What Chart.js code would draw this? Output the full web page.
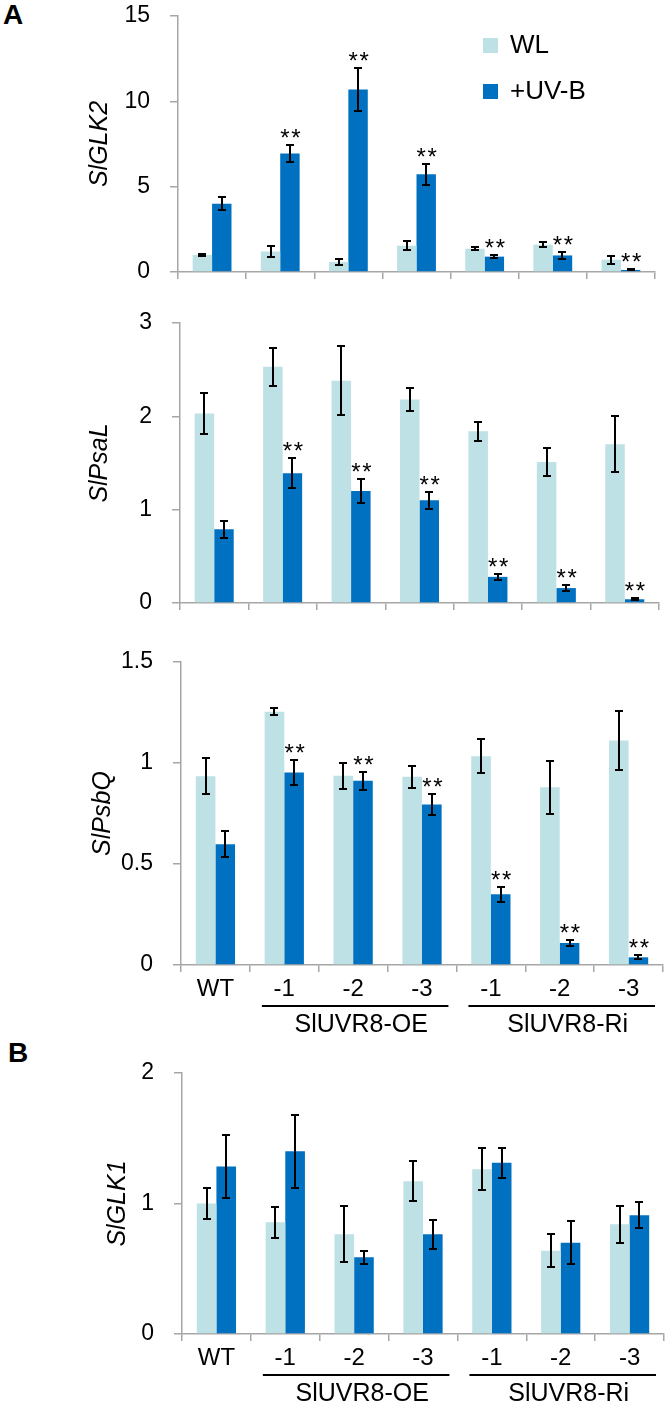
<!DOCTYPE html>
<html><head><meta charset="utf-8">
<script src="https://cdn.jsdelivr.net/npm/chart.js@4.4.1/dist/chart.umd.min.js"></script>
<style>
html,body{margin:0;padding:0;background:#fff;}
body{width:666px;height:1407px;position:relative;overflow:hidden;font-family:'Liberation Sans',Arial,Helvetica,sans-serif;}
canvas{position:absolute;left:0;}
.lbl{position:absolute;font-weight:bold;font-size:28px;line-height:1;color:#000;}
</style></head><body>
<div class="lbl" style="left:3px;top:1px">A</div>
<div class="lbl" style="left:8px;top:1039px">B</div>
<canvas id="c1" width="666" height="300" style="top:0px"></canvas>
<canvas id="c2" width="666" height="320" style="top:300px"></canvas>
<canvas id="c3" width="666" height="420" style="top:620px"></canvas>
<canvas id="c4" width="666" height="367" style="top:1040px"></canvas>
<script>
// ---------- data ----------
const categories = ['WT', '-1', '-2', '-3', '-1', '-2', '-3'];
const seriesNames = ['WL', '+UV-B'];
const groupNames = ['SlUVR8-OE', 'SlUVR8-Ri'];
const groupSpans = [[1, 3], [4, 6]];

// SlGLK2
const glk2WL = [1.0, 1.2, 0.58, 1.54, 1.36, 1.6, 0.72];
const glk2WLerr = [0.06, 0.35, 0.18, 0.27, 0.09, 0.13, 0.23];
const glk2UV = [4.0, 6.94, 10.7, 5.73, 0.9, 0.97, 0.12];
const glk2UVerr = [0.38, 0.49, 1.26, 0.61, 0.1, 0.2, 0.03];
const glk2Sig = [false, true, true, true, true, true, true];
const glk2Ticks = [0, 5, 10, 15];

// SlPsaL
const psalWL = [2.03, 2.53, 2.38, 2.18, 1.84, 1.51, 1.7];
const psalWLerr = [0.22, 0.2, 0.37, 0.12, 0.1, 0.15, 0.3];
const psalUV = [0.79, 1.39, 1.2, 1.1, 0.28, 0.16, 0.04];
const psalUVerr = [0.09, 0.16, 0.13, 0.09, 0.03, 0.035, 0.01];
const psalSig = [false, true, true, true, true, true, true];
const psalTicks = [0, 1, 2, 3];

// SlPsbQ
const psbqWL = [0.935, 1.254, 0.937, 0.932, 1.034, 0.88, 1.112];
const psbqWLerr = [0.09, 0.017, 0.064, 0.055, 0.084, 0.13, 0.145];
const psbqUV = [0.598, 0.953, 0.912, 0.795, 0.35, 0.109, 0.038];
const psbqUVerr = [0.063, 0.06, 0.045, 0.051, 0.036, 0.017, 0.01];
const psbqSig = [false, true, true, true, true, true, true];
const psbqTicks = [0, 0.5, 1, 1.5];

// SlGLK1
const glk1WL = [1.0, 0.857, 0.765, 1.171, 1.263, 0.637, 0.841];
const glk1WLerr = [0.115, 0.12, 0.216, 0.152, 0.163, 0.127, 0.14];
const glk1UV = [1.284, 1.40, 0.588, 0.765, 1.312, 0.70, 0.91];
const glk1UVerr = [0.244, 0.28, 0.05, 0.11, 0.114, 0.166, 0.1];
const glk1Sig = [false, false, false, false, false, false, false];
const glk1Ticks = [0, 1, 2];

// ---------- style ----------
const FONT = "'Liberation Sans', Arial, Helvetica, sans-serif";
const WL_COLOR = '#BDE1E4';
const UV_COLOR = '#0070C0';
const AXIS = '#A6A6A6';

function makePanel(cfg) {
  const cv = document.getElementById(cfg.id);
  const xh = cfg.showLabels ? 70 : 10;
  const deco = {
    id: 'deco_' + cfg.id,
    afterDatasetsDraw(chart) {
      const ctx = chart.ctx, y = chart.scales.y, x = chart.scales.x;
      ctx.save();
      ctx.strokeStyle = '#000';
      ctx.lineWidth = 2;
      const errSets = [cfg.wlErr, cfg.uvErr];
      errSets.forEach((errs, di) => {
        const meta = chart.getDatasetMeta(di);
        meta.data.forEach((bar, j) => {
          const v = chart.data.datasets[di].data[j], e = errs[j];
          const bx = Math.round(bar.x);
          const yt = Math.round(y.getPixelForValue(v + e));
          const yb = Math.round(y.getPixelForValue(Math.max(v - e, 0)));
          ctx.beginPath();
          ctx.moveTo(bx, yt); ctx.lineTo(bx, yb);
          ctx.moveTo(bx - 4, yt); ctx.lineTo(bx + 4, yt);
          ctx.moveTo(bx - 4, yb); ctx.lineTo(bx + 4, yb);
          ctx.stroke();
        });
      });
      // significance stars on +UV-B bars
      const uvMeta = chart.getDatasetMeta(1);
      ctx.fillStyle = '#000';
      ctx.font = '24px ' + FONT;
      ctx.textAlign = 'center';
      ctx.textBaseline = 'alphabetic';
      cfg.sig.forEach((s, j) => {
        if (!s) return;
        const v = cfg.uv[j], e = cfg.uvErr[j];
        const yt = y.getPixelForValue(v + e);
        const bx = uvMeta.data[j].x;
        ctx.fillText('*', bx - 5, yt + 1);
        ctx.fillText('*', bx + 6, yt + 1);
      });
      // legend
      if (cfg.legend) {
        const items = [[seriesNames[0], WL_COLOR, 38], [seriesNames[1], UV_COLOR, 84]];
        ctx.font = '26px ' + FONT;
        ctx.textAlign = 'left';
        ctx.textBaseline = 'middle';
        items.forEach(([t, c, yy]) => {
          ctx.fillStyle = c;
          ctx.fillRect(483, yy, 15, 15);
          ctx.fillStyle = '#000';
          ctx.fillText(t, 510, yy + 8);
        });
      }
      // group underlines and names
      if (cfg.showLabels) {
        const gw = (x.right - x.left) / categories.length;
        const base = chart.chartArea.bottom;
        ctx.strokeStyle = '#000';
        ctx.lineWidth = 2;
        ctx.font = '25px ' + FONT;
        ctx.textAlign = 'center';
        ctx.textBaseline = 'middle';
        ctx.fillStyle = '#000';
        groupSpans.forEach(([a, b], gi) => {
          const x0 = x.left + a * gw + 12, x1 = x.left + (b + 1) * gw - 8;
          ctx.beginPath();
          ctx.moveTo(x0, Math.round(base + 41)); ctx.lineTo(x1, Math.round(base + 41));
          ctx.stroke();
          ctx.fillText(groupNames[gi], (x0 + x1) / 2 + 6, base + 60);
        });
      }
      ctx.restore();
    }
  };
  return new Chart(cv, {
    type: 'bar',
    data: {
      labels: categories,
      datasets: [
        { label: seriesNames[0], data: cfg.wl, backgroundColor: WL_COLOR, borderWidth: 0, categoryPercentage: 0.57, barPercentage: 1.0 },
        { label: seriesNames[1], data: cfg.uv, backgroundColor: UV_COLOR, borderWidth: 0, categoryPercentage: 0.57, barPercentage: 1.0 }
      ]
    },
    options: {
      responsive: false,
      animation: false,
      devicePixelRatio: 1,
      layout: { padding: { left: 0, top: cfg.top - cfg.canvasTop, right: 666 - cfg.right, bottom: cfg.canvasTop + cfg.h - cfg.bottom - xh } },
      plugins: { legend: { display: false }, tooltip: { enabled: false } },
      scales: {
        x: {
          type: 'category',
          offset: true,
          grid: { offset: true, drawOnChartArea: false, drawTicks: true, tickLength: 7, color: AXIS, lineWidth: 1.5 },
          border: { color: AXIS, width: 1.5 },
          ticks: { display: cfg.showLabels, font: { family: FONT, size: 24 }, color: '#000', padding: 3, maxRotation: 0, autoSkip: false },
          afterFit(s) { s.height = xh; s.paddingLeft = 0; s.paddingRight = 0; }
        },
        y: {
          min: 0,
          max: cfg.ticks[cfg.ticks.length - 1],
          afterBuildTicks(s) { s.ticks = cfg.ticks.map(v => ({ value: v })); },
          grid: { drawOnChartArea: false, tickLength: 8, color: AXIS, lineWidth: 1.5 },
          border: { color: AXIS, width: 1.5 },
          ticks: { font: { family: FONT, size: 23 }, color: '#000', padding: 20, callback: v => String(v) },
          title: { display: true, text: cfg.title, color: '#000', font: { family: FONT, size: 25, style: 'italic' }, padding: { top: cfg.titleX - 15, bottom: 0 } },
          afterFit(s) { s.width = cfg.left; s.paddingTop = 0; s.paddingBottom = 0; }
        }
      }
    },
    plugins: [deco]
  });
}

makePanel({ id: 'c1', canvasTop: 0, h: 300, left: 178, right: 655, top: 16, bottom: 272,
  title: 'SlGLK2', titleX: 100, ticks: glk2Ticks, wl: glk2WL, wlErr: glk2WLerr, uv: glk2UV, uvErr: glk2UVerr, sig: glk2Sig, legend: true, showLabels: false });
makePanel({ id: 'c2', canvasTop: 300, h: 320, left: 180, right: 659, top: 323, bottom: 603,
  title: 'SlPsaL', titleX: 100, ticks: psalTicks, wl: psalWL, wlErr: psalWLerr, uv: psalUV, uvErr: psalUVerr, sig: psalSig, legend: false, showLabels: false });
makePanel({ id: 'c3', canvasTop: 620, h: 420, left: 181, right: 663, top: 662, bottom: 965,
  title: 'SlPsbQ', titleX: 103, ticks: psbqTicks, wl: psbqWL, wlErr: psbqWLerr, uv: psbqUV, uvErr: psbqUVerr, sig: psbqSig, legend: false, showLabels: true });
makePanel({ id: 'c4', canvasTop: 1040, h: 367, left: 182, right: 664, top: 1073, bottom: 1334,
  title: 'SlGLK1', titleX: 118, ticks: glk1Ticks, wl: glk1WL, wlErr: glk1WLerr, uv: glk1UV, uvErr: glk1UVerr, sig: glk1Sig, legend: false, showLabels: true });
</script>
</body></html>
